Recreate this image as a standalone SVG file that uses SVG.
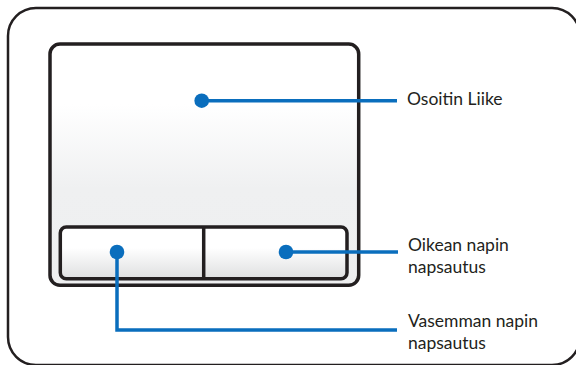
<svg xmlns="http://www.w3.org/2000/svg" width="576" height="365" viewBox="0 0 576 365">
<defs>
<linearGradient id="padFill" x1="0" y1="44" x2="0" y2="285" gradientUnits="userSpaceOnUse">
<stop offset="0" stop-color="#ffffff"/>
<stop offset="0.25" stop-color="#ffffff"/>
<stop offset="0.6" stop-color="#eff0f1"/>
<stop offset="1" stop-color="#eeeff0"/>
</linearGradient>
<linearGradient id="btnFill" x1="0" y1="227" x2="0" y2="279" gradientUnits="userSpaceOnUse">
<stop offset="0" stop-color="#ffffff"/>
<stop offset="0.4" stop-color="#ffffff"/>
<stop offset="1" stop-color="#dedfe0"/>
</linearGradient>
</defs>
<style>
.frame{fill:#ffffff;stroke:#231f20;stroke-width:2.5}
.pad{fill:url(#padFill);stroke:#231f20;stroke-width:3.5}
.btn{fill:url(#btnFill);stroke:#231f20;stroke-width:3.5}
.div{stroke:#231f20;stroke-width:3.5}
.lead{fill:none;stroke:#0a6ebd;stroke-width:3.5}
.dot{fill:#0a6ebd}
.lbl{font-family:Lato,"Open Sans",sans-serif;font-size:17.5px;fill:#231f20}
</style>
<g id="frame"><rect class="frame" x="8" y="8" width="572" height="357" rx="28"/></g>
<g id="touchpad"><rect class="pad" x="50" y="44" width="308.7" height="241.3" rx="10"/></g>
<g id="buttons">
<rect class="btn" x="60.3" y="227" width="286.7" height="51.7" rx="6"/>
<line class="div" x1="203.7" y1="227" x2="203.7" y2="278.7"/>
</g>
<g id="connectors">
<polyline class="lead" points="201.7,100.7 397,100.7"/>
<polyline class="lead" points="286,252 398,252"/>
<polyline class="lead" points="117,252 117,330 397,330"/>
</g>
<g id="dots">
<circle class="dot" cx="201.7" cy="100.7" r="7.3"/>
<circle class="dot" cx="286" cy="252" r="7.3"/>
<circle class="dot" cx="117" cy="252" r="7.3"/>
</g>
<g id="label-pointer"><text class="lbl" x="407" y="105">Osoitin Liike</text></g>
<g id="label-right"><text class="lbl" x="408" y="251">Oikean napin</text><text class="lbl" x="408" y="273">napsautus</text></g>
<g id="label-left"><text class="lbl" x="408" y="327">Vasemman napin</text><text class="lbl" x="408" y="349">napsautus</text></g>
</svg>
